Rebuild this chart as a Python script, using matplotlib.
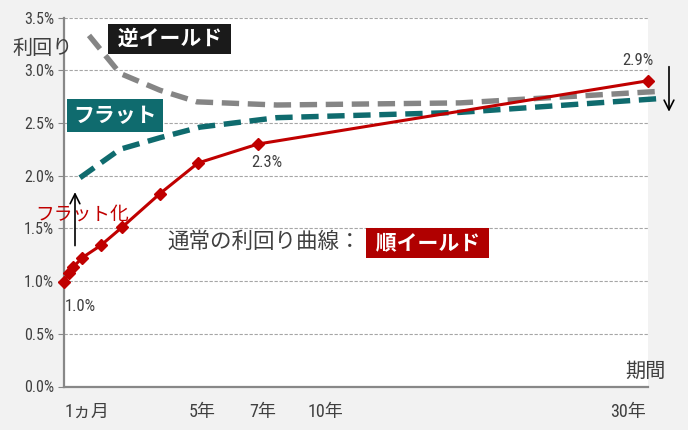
"""Yield curve shapes: normal, flat and inverted."""

import matplotlib.pyplot as plt

plt.rcParams["font.family"] = ["Roboto Condensed", "Noto Sans CJK JP", "DejaVu Sans"]

# x positions along the (non-linear) maturity axis
normal_pos = [0, 5, 9, 18, 37, 58, 96, 134, 194, 584]
normal_yield = [0.99, 1.08, 1.13, 1.22, 1.34, 1.51, 1.83, 2.12, 2.30, 2.90]

flat_pos = [16, 56, 96, 136, 213, 396, 594]
flat_yield = [1.98, 2.25, 2.36, 2.46, 2.55, 2.60, 2.73]

inverted_pos = [25, 56, 96, 133, 213, 396, 596]
inverted_yield = [3.33, 2.97, 2.81, 2.70, 2.67, 2.69, 2.80]

tick_pos = [23, 138, 199, 261, 564]
tick_labels = ["1ヵ月", "5年", "7年", "10年", "30年"]
y_ticks = [0.0, 0.5, 1.0, 1.5, 2.0, 2.5, 3.0, 3.5]

RED = "#c00000"
TEAL = "#0f6b6e"
GRAY = "#858585"
TXT = "#404040"
CJK = ["Noto Sans CJK JP", "DejaVu Sans"]

fig = plt.figure(figsize=(6.88, 4.30), dpi=100, facecolor="#f2f2f2")
ax = fig.add_axes([64 / 688, 1 - 386.5 / 430, 584 / 688, 369 / 430])
ax.set_facecolor("white")
ax.set_xlim(0, 584)
ax.set_ylim(0, 3.5)

ax.set_yticks(y_ticks)
ax.set_yticklabels([f"{v:.1f}%" for v in y_ticks])
ax.set_xticks(tick_pos)
ax.set_xticklabels(tick_labels)
ax.tick_params(axis="y", length=4, color="#888888", labelsize=11.5, labelcolor=TXT, pad=3)
ax.tick_params(axis="x", length=0, labelsize=13, labelcolor=TXT, pad=12)
for side in ("top", "right"):
    ax.spines[side].set_visible(False)
for side in ("left", "bottom"):
    ax.spines[side].set_color("#888888")
    ax.spines[side].set_linewidth(1.6)
ax.grid(axis="y", color="#a6a6a6", linestyle=(0, (3, 1.5)), linewidth=0.8)
ax.set_axisbelow(True)

ax.plot(inverted_pos, inverted_yield, color=GRAY, lw=3.9, dashes=(3.2, 1.6),
        clip_on=False, zorder=3)
ax.plot(flat_pos, flat_yield, color=TEAL, lw=3.9, dashes=(3.2, 1.6),
        clip_on=False, zorder=3)
ax.plot(normal_pos, normal_yield, color=RED, lw=2.2, marker="D", markersize=6.5,
        clip_on=False, zorder=4)

# data labels
ax.text(16, 0.76, f"{normal_yield[0]:.1f}%", fontsize=12, color=TXT, ha="center", va="center")
ax.text(203, 2.12, f"{normal_yield[8]:.1f}%", fontsize=12, color=TXT, ha="center", va="center")
ax.text(574, 3.09, f"{normal_yield[-1]:.1f}%", fontsize=12, color=TXT, ha="center", va="center")

# labels
box = dict(boxstyle="square,pad=0.22", ec="none")
ax.text(-52, 3.21, "利回り", family=CJK, fontsize=14.5, color=TXT, va="center", clip_on=False)
ax.text(561, 0.14, "期間", family=CJK, fontsize=14.5, color=TXT, va="center", clip_on=False)
ax.text(49, 3.3, " 逆イールド ", family=CJK, fontsize=15, color="white", weight="bold",
        va="center", bbox=dict(box, fc="#1a1a1a"))
ax.text(9, 2.57, "フラット", family=CJK, fontsize=15, color="white", weight="bold",
        va="center", bbox=dict(boxstyle="square,pad=0.3", ec="none", fc=TEAL))
ax.text(-29, 1.64, "フラット化", family=CJK, fontsize=13.5, color=RED, va="center",
        clip_on=False)
ax.text(103, 1.37, "通常の利回り曲線：", family=CJK, fontsize=15.5, color=TXT, va="center")
ax.text(307, 1.36, " 順イールド ", family=CJK, fontsize=15, color="white", weight="bold",
        va="center", bbox=dict(box, fc="#b00000"))

# arrows
ax.annotate("", xy=(11, 1.87), xytext=(11, 1.31), annotation_clip=False,
            arrowprops=dict(arrowstyle="->,head_width=0.35,head_length=0.7", color="black", lw=1.2))
ax.annotate("", xy=(605, 2.58), xytext=(605, 3.06), annotation_clip=False,
            arrowprops=dict(arrowstyle="->,head_width=0.35,head_length=0.7", color="black", lw=1.2))

fig.savefig("out.png", dpi=100, facecolor=fig.get_facecolor())
